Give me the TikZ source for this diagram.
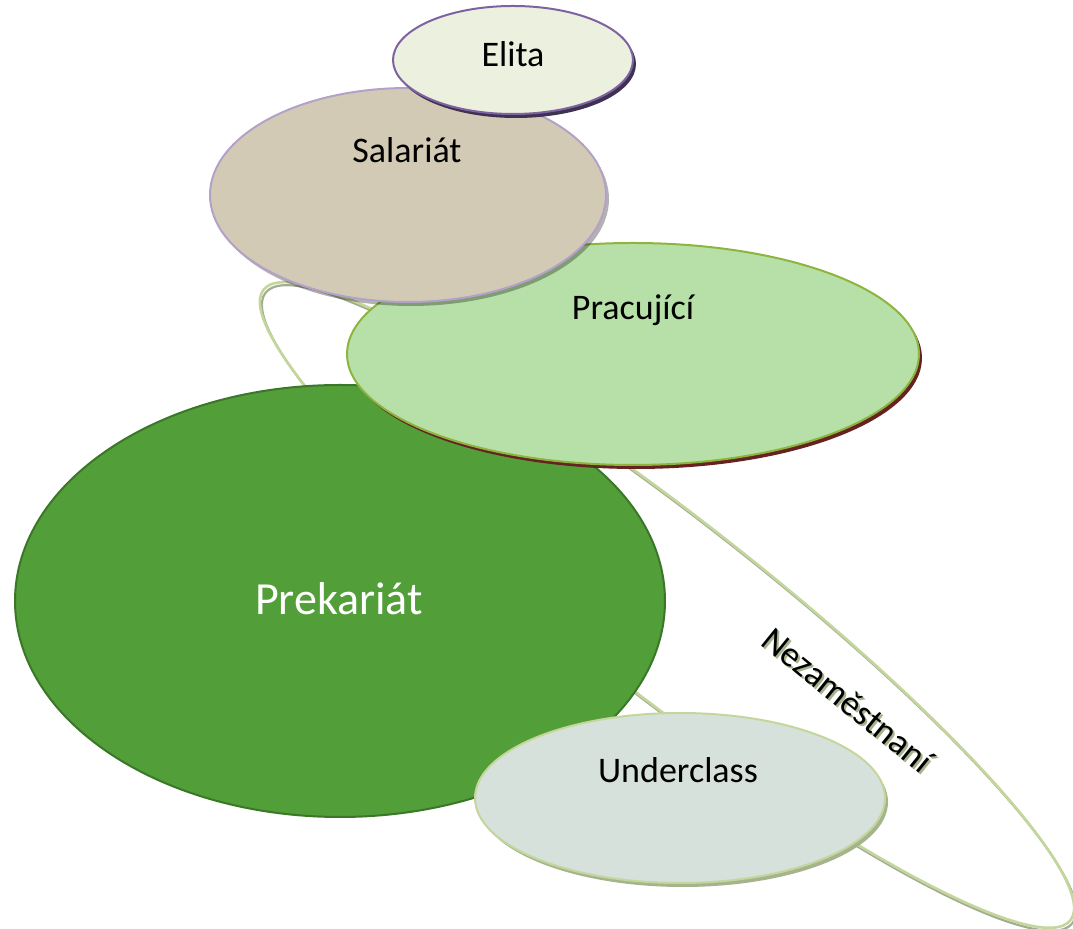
\documentclass[tikz,border=0pt]{standalone}
\usepackage{fontspec}
\setmainfont{Carlito}
\usetikzlibrary{shapes.geometric,shadows}
\definecolor{loopline}{HTML}{C3D69B}
\definecolor{loopshade}{HTML}{A3AC93}
\definecolor{prekfill}{HTML}{529E38}
\definecolor{prekline}{HTML}{3B7728}
\definecolor{pracfill}{HTML}{B7E0A8}
\definecolor{pracline}{HTML}{8DB43E}
\definecolor{pracshade}{HTML}{652220}
\definecolor{salfill}{HTML}{D3CAB5}
\definecolor{salline}{HTML}{B3A2C7}
\definecolor{elifill}{HTML}{EBF1DE}
\definecolor{eliline}{HTML}{7F63A0}
\definecolor{elishade}{HTML}{3F3151}
\definecolor{undfill}{HTML}{D7E1DB}
\definecolor{undshade}{HTML}{A6B48E}

\begin{document}
\begin{tikzpicture}[x=0.5pt,y=-0.5pt,line join=round,line cap=round,
  oval/.style={ellipse,inner sep=0pt,line width=1pt},
  shade/.style={drop shadow={shadow xshift=1.5pt,shadow yshift=-2pt,fill=#1,opacity=1}},
  lbl/.style={anchor=base,font=\fontsize{18}{20}\selectfont}]
\useasboundingbox (0,0) rectangle (1073,929);
% the long loop behind everything
\node[oval,draw=loopshade,line width=1.1pt,minimum width=512pt,minimum height=88pt,rotate=-38] (nezs) at (669,608) {};
\node[oval,draw=loopline,line width=1.3pt,minimum width=512pt,minimum height=88pt,rotate=-38] (nez) at (667,605) {};
% the classes
\node[oval,fill=prekfill,draw=prekline,minimum width=325pt,minimum height=216pt] (pre) at (340,601) {};
\node[oval,fill=pracfill,draw=pracline,minimum width=286pt,minimum height=111pt,shade=pracshade] (pra) at (633,354) {};
\node[oval,fill=salfill,draw=salline,minimum width=198pt,minimum height=107pt,drop shadow={shadow xshift=1.5pt,shadow yshift=-2pt,fill=black,opacity=0.3}] (sal) at (408,195) {};
\node[oval,fill=elifill,draw=eliline,minimum width=120pt,minimum height=54pt,shade=elishade] (eli) at (513,60) {};
\node[oval,fill=undfill,draw=loopline,minimum width=205pt,minimum height=85pt,shade=undshade] (und) at (680,798) {};
% labels
\foreach \n/\x/\y/\t in {eli/513/67/Elita,sal/407/163/Salariát,pra/633/320/Pracující,und/678/783/Underclass}
  {\node[lbl] (\n-txt) at (\x,\y) {\t};}
\node[lbl,text=white,font=\fontsize{23}{26}\selectfont] (pre-txt) at (339,615) {Prekariát};
\node[font=\fontsize{18}{20}\selectfont,text=undshade,rotate=-39] (nez-sh) at (850,702) {Nezaměstnaní};
\node[font=\fontsize{18}{20}\selectfont,rotate=-39] (nez-txt) at (848,700) {Nezaměstnaní};
\end{tikzpicture}
\end{document}
